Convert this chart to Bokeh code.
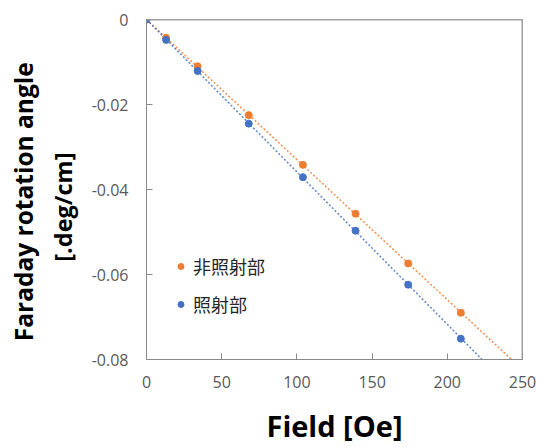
import numpy as np
from bokeh.plotting import figure
from bokeh.models import (Range1d, FixedTicker, CustomJSTickFormatter,
                          Legend, LegendItem, LinearAxis, Span)
from bokeh.embed import file_html
from bokeh.resources import INLINE

# ---- data ----
field = [0, 13, 34, 68, 104, 139, 174, 209]
non_irradiated = [0, -0.0043, -0.0110, -0.0225, -0.0342, -0.0457, -0.0574, -0.0690]
irradiated = [0, -0.0048, -0.0121, -0.0245, -0.0371, -0.0497, -0.0624, -0.0751]
series_names = ["非照射部", "照射部"]
x_ticks = [0, 50, 100, 150, 200, 250]
y_ticks = [0, -0.02, -0.04, -0.06, -0.08]

ORANGE = "#ED7D31"
BLUE = "#4472C4"
AXIS_GRAY = "#898989"
BORDER_GRAY = "#a0a0a0"
LABEL_GRAY = "#595959"
FONT = "Open Sans"
CJK = "Noto Sans CJK JP"
EN = "\u2002"   # trailing space so the vertical titles sit a bit lower

p = figure(width=537, height=447, output_backend="svg", toolbar_location=None,
           x_range=Range1d(0, 250), y_range=Range1d(-0.08, 0),
           min_border_left=146, min_border_right=15, min_border_top=19,
           min_border_bottom=88)
p.background_fill_color = "white"
p.border_fill_color = "white"
p.outline_line_color = BORDER_GRAY
p.xgrid.visible = False
p.ygrid.visible = False

for ax in (p.xaxis[0], p.yaxis[0]):
    ax.axis_line_color = AXIS_GRAY
    ax.major_tick_line_color = AXIS_GRAY
    ax.major_tick_in = 6
    ax.major_tick_out = 0
    ax.minor_tick_line_color = None
    ax.major_label_text_font = FONT
    ax.major_label_text_font_size = "16px"
    ax.major_label_text_color = LABEL_GRAY
    ax.axis_label_text_font = FONT
    ax.axis_label_text_font_style = "bold"
    ax.axis_label_text_color = "black"

p.xaxis.ticker = FixedTicker(ticks=x_ticks)
p.yaxis.ticker = FixedTicker(ticks=y_ticks)
p.xaxis.major_label_standoff = 16
p.yaxis.major_label_standoff = 18
p.yaxis.formatter = CustomJSTickFormatter(code="return tick == 0 ? '0' : tick.toFixed(2);")

p.xaxis.axis_label = "Field [Oe]"
p.xaxis.axis_label_text_font_size = "29px"
p.xaxis.axis_label_standoff = 15

p.yaxis.axis_label = "[.deg/cm]" + EN * 3
p.yaxis.axis_label_text_font_size = "23.5px"
p.yaxis.axis_label_standoff = 10

# outer left axis carrying the first line of the y title
outer = LinearAxis(ticker=FixedTicker(ticks=[]), axis_line_color=None,
                   major_tick_line_color=None, minor_tick_line_color=None,
                   major_label_standoff=0,
                   axis_label="Faraday rotation angle" + EN * 2, axis_label_standoff=4,
                   axis_label_text_font=FONT, axis_label_text_font_style="bold",
                   axis_label_text_font_size="24.5px", axis_label_text_color="black")
p.add_layout(outer, "left")

# frame border on top and right (at the range ends)
p.add_layout(Span(location=p.x_range.end, dimension="height",
                  line_color=BORDER_GRAY, line_width=2))
p.add_layout(Span(location=p.y_range.end, dimension="width",
                  line_color=BORDER_GRAY, line_width=2))

# trend lines (least squares through origin)
xs = np.array(field, dtype=float)
xline = np.array([0.0, 250.0])
for ys, col in ((non_irradiated, ORANGE), (irradiated, BLUE)):
    ys = np.array(ys)
    k = float((xs * ys).sum() / (xs * xs).sum())
    p.line(xline, k * xline, line_color=col, line_width=1.5, line_dash="2 2", line_alpha=0.85)

r_orange = p.scatter(field, non_irradiated, size=7, fill_color=ORANGE, line_color=ORANGE)
r_blue = p.scatter(field, irradiated, size=7, fill_color=BLUE, line_color=BLUE)

def make_legend(name, rend, loc):
    lg = Legend(items=[LegendItem(label=name, renderers=[rend])], location=loc,
                padding=0, margin=0, border_line_color=None,
                background_fill_alpha=0, glyph_width=15, glyph_height=20,
                label_height=20, label_standoff=5,
                label_text_font=CJK, label_text_font_size="18px",
                label_text_color="#262626")
    p.add_layout(lg)

make_legend(series_names[0], r_orange, (27, 80))
make_legend(series_names[1], r_blue, (27, 42))

open("out.html", "w").write(file_html(p, INLINE))
